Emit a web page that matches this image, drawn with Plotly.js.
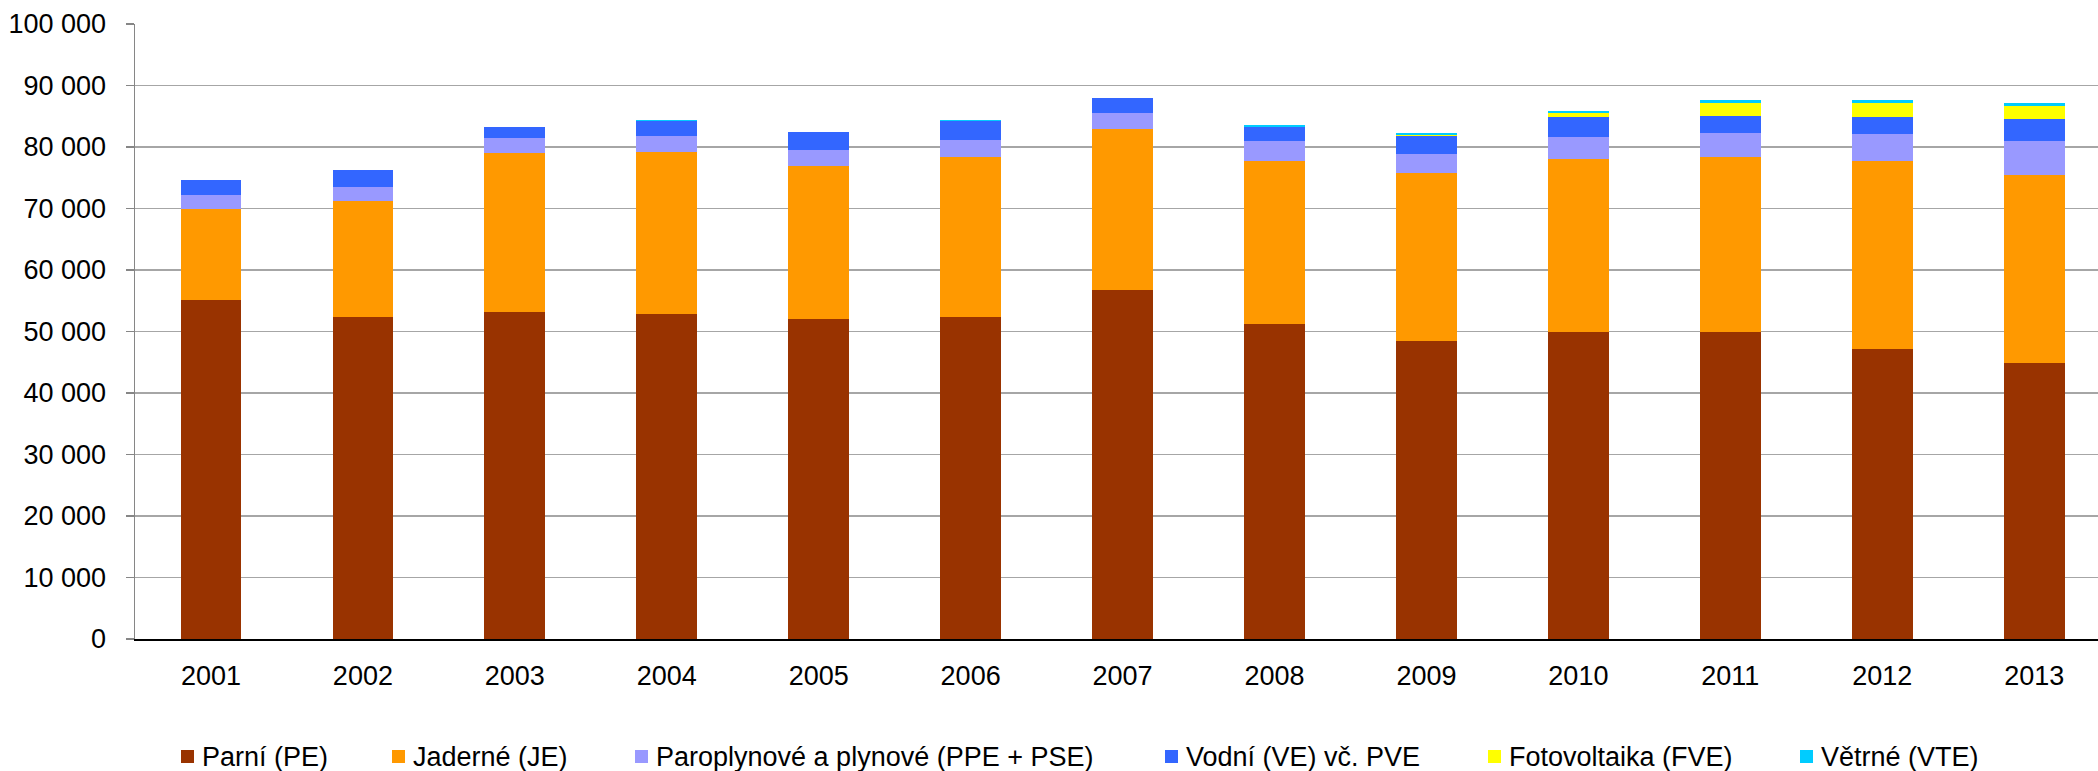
<!DOCTYPE html>
<html>
<head>
<meta charset="utf-8">
<script src="https://cdn.plot.ly/plotly-3.0.1.min.js"></script>
<style>
  html, body { margin: 0; padding: 0; background: #ffffff; }
  #chart { width: 2098px; height: 771px; }
</style>
</head>
<body>
<div id="chart"></div>
<script>
// ---- data ----
const years = ['2001','2002','2003','2004','2005','2006','2007','2008','2009','2010','2011','2012','2013'];
const seriesNames = ['Parní (PE)', 'Jaderné (JE)', 'Paroplynové a plynové (PPE + PSE)', 'Vodní (VE) vč. PVE', 'Fotovoltaika (FVE)', 'Větrné (VTE)'];
const parni       = [55100, 52400, 53100, 52800, 52100, 52400, 56700, 51200, 48500, 50000, 50000, 47200, 44800];
const jaderne     = [14800, 18800, 25900, 26400, 24800, 26000, 26200, 26600, 27200, 28000, 28300, 30500, 30700];
const paroplynove = [2300, 2300, 2500, 2600, 2600, 2700, 2600, 3100, 3200, 3600, 4000, 4400, 5400];
const vodni       = [2500, 2800, 1700, 2500, 3000, 3200, 2400, 2400, 2950, 3300, 2700, 2800, 3600];
const fotovoltaika= [0, 0, 0, 0, 0, 0, 2, 13, 90, 620, 2200, 2300, 2100];
const vetrne      = [0, 2, 4, 10, 21, 49, 125, 245, 290, 340, 400, 420, 480];
const yTickVals   = [0, 10000, 20000, 30000, 40000, 50000, 60000, 70000, 80000, 90000, 100000];

// ---- styles ----
const colors = ['#993300', '#FF9900', '#9999FF', '#3366FF', '#FFFF00', '#00CCFF'];
const values = [parni, jaderne, paroplynove, vodni, fotovoltaika, vetrne];
const FONT = 'Liberation Sans, Arial, sans-serif';
const FS = 27;

const W = 2098, H = 771;
const M = {l: 135, r: 0, t: 24, b: 132};
const plotW = W - M.l - M.r, plotH = H - M.t - M.b;
const px2x = px => (px - M.l) / plotW;
const px2y = py => (H - M.b - py) / plotH;

const traces = values.map((v, i) => ({
  type: 'bar',
  name: seriesNames[i],
  x: years,
  y: v,
  marker: {color: colors[i], line: {width: 0}},
  hoverinfo: 'skip',
  showlegend: false
}));

// manual legend (positions in pixels)
const legendSwatchX = [181, 392, 635, 1165, 1488, 1800];
const legendY = 757;
const shapes = [];
const annotations = [];
seriesNames.forEach((n, i) => {
  shapes.push({
    type: 'rect', xref: 'paper', yref: 'paper',
    x0: px2x(legendSwatchX[i]), x1: px2x(legendSwatchX[i] + 13),
    y0: px2y(legendY - 7), y1: px2y(legendY + 6),
    fillcolor: colors[i], line: {width: 0}
  });
  annotations.push({
    xref: 'paper', yref: 'paper',
    x: px2x(legendSwatchX[i] + 19), y: px2y(legendY),
    xanchor: 'left', yanchor: 'middle',
    text: n, showarrow: false,
    font: {family: FONT, size: FS, color: '#000000'}
  });
});

const layout = {
  width: W, height: H,
  margin: M,
  paper_bgcolor: '#ffffff',
  plot_bgcolor: '#ffffff',
  barmode: 'stack',
  bargap: 0.6,
  separators: ', ',
  showlegend: false,
  font: {family: FONT, size: FS, color: '#000000'},
  xaxis: {
    type: 'category',
    range: [-0.5, 12.42],
    showline: true, linecolor: '#000000', linewidth: 1.5,
    ticks: '', showgrid: false, zeroline: false,
    tickfont: {family: FONT, size: FS, color: '#000000'},
    ticklabelstandoff: 12,
    fixedrange: true
  },
  yaxis: {
    range: [0, 100000],
    tickvals: yTickVals,
    tickformat: ',d',
    showline: true, linecolor: '#868686', linewidth: 1.5,
    ticks: 'outside', ticklen: 8, tickcolor: '#868686', tickwidth: 1.5,
    showgrid: true, gridcolor: '#A6A6A6', gridwidth: 1.5,
    zeroline: false,
    tickfont: {family: FONT, size: FS, color: '#000000'},
    ticklabelstandoff: 14,
    fixedrange: true
  },
  shapes: shapes,
  annotations: annotations
};

Plotly.newPlot('chart', traces, layout, {displayModeBar: false, staticPlot: true});
</script>
</body>
</html>
